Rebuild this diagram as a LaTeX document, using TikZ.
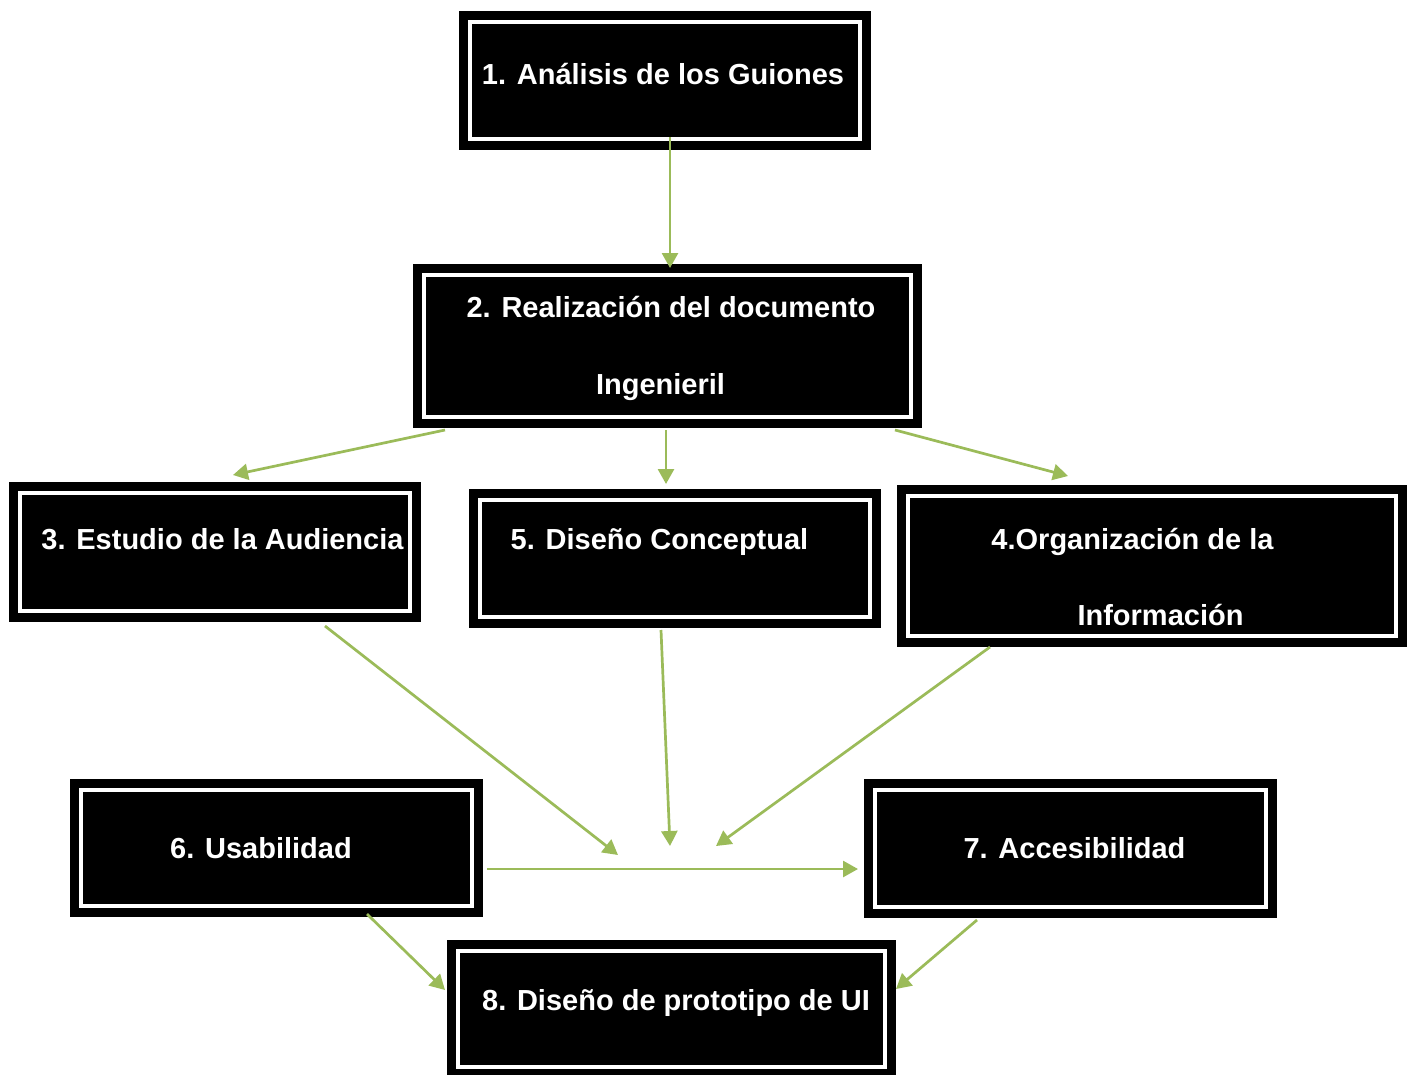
\documentclass[tikz,border=0pt]{standalone}
\usepackage{fontspec}
\setmainfont{Liberation Sans}
\usetikzlibrary{arrows.meta}
\definecolor{arrowgreen}{RGB}{155,187,89}
\begin{document}
\begin{tikzpicture}[x=1pt,y=-1pt,
  stagebox/.style={rectangle, fill=black, draw=black, line width=9pt, double=white, double distance=4pt, inner sep=0pt, outer sep=0pt},
  stagetext/.style={text=white, font=\fontsize{29}{29}\selectfont\bfseries, inner sep=0pt, anchor=base},
  flow/.style={draw=arrowgreen, line width=2.7pt, -{Triangle[length=15pt,width=16pt]}}]
\useasboundingbox[fill=white] (0,0) rectangle (1411,1074);

% boxes (path = centre of the white inner line)
\node[stagebox, minimum width=390pt, minimum height=117pt] (b1) at (665,80.5) {};
\node[stagebox, minimum width=487pt, minimum height=142pt] (b2) at (667.5,346) {};
\node[stagebox, minimum width=390.5pt, minimum height=118pt] (b3) at (214.75,551.5) {};
\node[stagebox, minimum width=390pt, minimum height=117.5pt] (b5) at (674.5,558.25) {};
\node[stagebox, minimum width=488pt, minimum height=140pt] (b4) at (1151.5,565.5) {};
\node[stagebox, minimum width=391pt, minimum height=116pt] (b6) at (276,847.5) {};
\node[stagebox, minimum width=391pt, minimum height=117pt] (b7) at (1070.5,848) {};
\node[stagebox, minimum width=426.5pt, minimum height=116.5pt] (b8) at (671.25,1008.75) {};

% texts
\node[stagetext] (t1) at (663,84) {1. Análisis de los Guiones};
\node[stagetext] (t2a) at (671,317) {2. Realización del documento};
\node[stagetext] (t2b) at (660.5,394) {Ingenieril};
\node[stagetext] (t3) at (222.5,549) {3. Estudio de la Audiencia};
\node[stagetext] (t5) at (659.5,549) {5. Diseño Conceptual};
\node[stagetext] (t4a) at (1132.5,549) {4.Organización de la};
\node[stagetext] (t4b) at (1160.5,625) {Información};
\node[stagetext] (t6) at (261,858) {6. Usabilidad};
\node[stagetext] (t7) at (1074.5,858) {7. Accesibilidad};
\node[stagetext] (t8) at (676,1010) {8. Diseño de prototipo de UI};

% connector end points
\coordinate (a1s) at (670,137);  \coordinate (a1e) at (670,268);
\coordinate (a2s) at (445,430);  \coordinate (a2e) at (233,475);
\coordinate (a3s) at (666,430);  \coordinate (a3e) at (666,484);
\coordinate (a4s) at (895,430);  \coordinate (a4e) at (1068,476);
\coordinate (a5s) at (325,626);  \coordinate (a5e) at (618,855);
\coordinate (a6s) at (661,630);  \coordinate (a6e) at (670,846);
\coordinate (a7s) at (990,647);  \coordinate (a7e) at (716,846);
\coordinate (a8s) at (487,869);  \coordinate (a8e) at (858,869);
\coordinate (a9s) at (367,914);  \coordinate (a9e) at (445,990);
\coordinate (a10s) at (977,920); \coordinate (a10e) at (896,989);

\draw[flow] (a1s) -- (a1e);
\draw[flow] (a2s) -- (a2e);
\draw[flow] (a3s) -- (a3e);
\draw[flow] (a4s) -- (a4e);
\draw[flow] (a5s) -- (a5e);
\draw[flow] (a6s) -- (a6e);
\draw[flow] (a7s) -- (a7e);
\draw[flow] (a8s) -- (a8e);
\draw[flow] (a9s) -- (a9e);
\draw[flow] (a10s) -- (a10e);
\end{tikzpicture}
\end{document}
